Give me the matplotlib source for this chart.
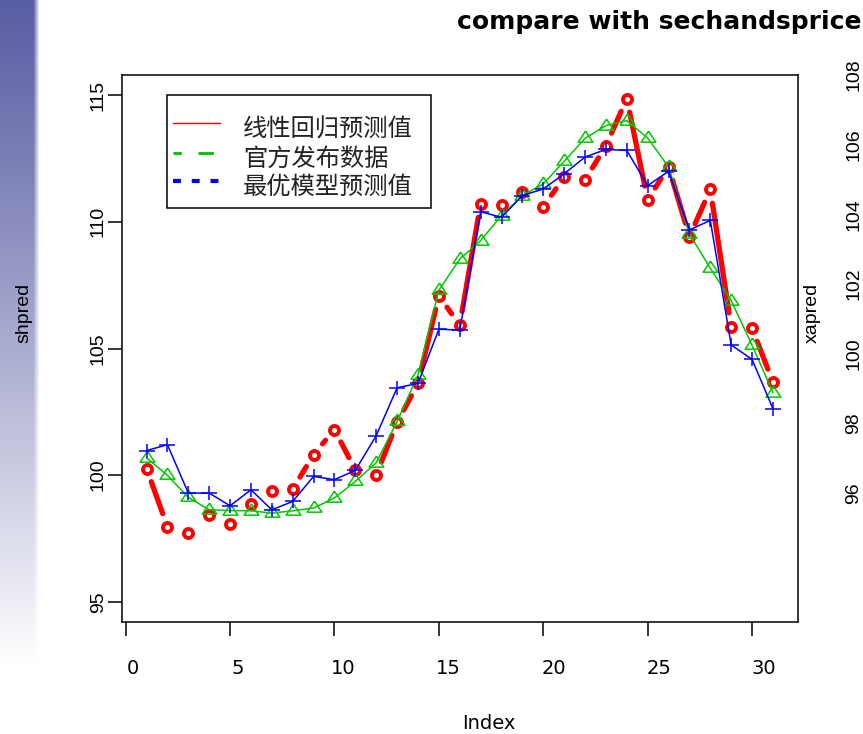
import numpy as np
import matplotlib
matplotlib.use("Agg")
import matplotlib.pyplot as plt
from matplotlib.lines import Line2D
from matplotlib.patches import Rectangle
from matplotlib.path import Path
from matplotlib.collections import LineCollection
from matplotlib.transforms import ScaledTranslation

# ---------------- data ----------------
index = list(range(1, 32))
linear_pred = [100.26, 97.96, 97.72, 98.41, 98.07, 98.85, 99.38, 99.45, 100.81, 101.80,
               100.20, 100.01, 102.08, 103.62, 107.08, 105.92, 110.72, 110.67, 111.17, 110.60,
               111.76, 111.66, 113.00, 114.87, 110.87, 112.17, 109.42, 111.28, 105.86, 105.80,
               103.67]
official = [100.68, 99.99, 99.12, 98.63, 98.60, 98.59, 98.50, 98.59, 98.70, 99.10,
            99.75, 100.49, 102.12, 103.96, 107.30, 108.53, 109.26, 110.25, 111.04, 111.50,
            112.39, 113.30, 113.80, 114.00, 113.31, 112.17, 109.52, 108.17, 106.89, 105.13,
            103.26]
best_pred = [100.97, 101.20, 99.29, 99.29, 98.79, 99.42, 98.63, 98.96, 99.95, 99.82,
             100.19, 101.56, 103.45, 103.62, 105.76, 105.73, 110.40, 110.18, 111.04, 111.30,
             111.90, 112.56, 112.86, 112.82, 111.43, 112.00, 109.68, 110.06, 105.14, 104.57,
             102.62]
x_ticks = [0, 5, 10, 15, 20, 25, 30]
y_ticks = [95, 100, 105, 110, 115]
right_ticks = [96, 98, 100, 102, 104, 106, 108]
legend_labels = ["线性回归预测值", "官方发布数据", "最优模型预测值"]
title_text = "compare with sechandsprice"
xlabel_text = "Index"
ylabel_text = "shpred"
ylabel2_text = "xapred"

# ---------------- figure ----------------
W, H = 863, 734
fig = plt.figure(figsize=(W / 100, H / 100), dpi=100)
fig.patch.set_facecolor("white")


def fx(px):
    return px / W


def fy(py):
    return 1 - py / H


# left decorative gradient strip
gh, gw = H, 42
rows = np.arange(gh)[:, None]
cols = np.arange(gw)[None, :]
t = np.clip(rows / 665.0, 0, 1) ** 1.1
top = np.array([90, 94, 163]) / 255.0
rgb = top[None, None, :] * (1 - t[..., None]) + t[..., None]
a = np.clip((39.0 - cols) / 6.0, 0, 1)[..., None]
rgb = rgb * a + (1 - a)
img = np.ones((gh, gw, 4))
img[..., :3] = np.broadcast_to(rgb, (gh, gw, 3))
fig.figimage(img, xo=0, yo=0, origin="upper", zorder=0)

L, R, T, B = 121.5, 798.0, 75.0, 622.0
ax = fig.add_axes([fx(L), fy(B), fx(R) - fx(L), fy(T) - fy(B)])
ax.set_facecolor("none")
ax.set_xlim(-0.2, 32.2)
ax.set_ylim(94.2, 115.8)
for s in ax.spines.values():
    s.set_linewidth(1.1)
    s.set_color("black")

ax.set_xticks(x_ticks)
ax.set_yticks(y_ticks)
ax.tick_params(axis="both", direction="out", length=10, width=1.1, color="black")
ax.tick_params(axis="x", pad=17)
ax.tick_params(axis="y", pad=6.8, labelrotation=90)
for v, lbl in zip(x_ticks, ax.get_xticklabels()):
    lbl.set_fontfamily("DejaVu Sans")
    lbl.set_fontsize(14)
    shift = (6.7 + 0.177 * v) / 100.0
    lbl.set_transform(lbl.get_transform() + ScaledTranslation(shift, 0, fig.dpi_scale_trans))
for lbl in ax.get_yticklabels():
    lbl.set_fontfamily("Liberation Sans")
    lbl.set_fontsize(14)
    lbl.set_ha("center")
    lbl.set_va("center")

# red: type "b" (points with gapped thick line segments)
trans = ax.transData
inv = trans.inverted()
pts = trans.transform(np.column_stack([index, linear_pred]))
segs = []
gap = 14.0
for p0, p1 in zip(pts[:-1], pts[1:]):
    d = p1 - p0
    ln = np.hypot(d[0], d[1])
    if ln <= 2 * gap + 2:
        continue
    u = d / ln
    segs.append(inv.transform(np.array([p0 + u * gap, p1 - u * gap])))
lc = LineCollection(segs, colors="#ff0000", linewidths=3.8, capstyle="round", zorder=2)
ax.add_collection(lc)
ax.plot(index, linear_pred, linestyle="none", marker="o", ms=6.5, mew=2.8,
        mfc="none", mec="#ff0000", zorder=2.1)

# green: triangles with thin line
tri = [(0, 1.5551), (1.55, -0.7776), (-1.55, -0.7776), (0, 1.5551)]
ax.plot(index, official, color="#00c800", lw=1.1, marker=tri, ms=10.6, mew=1.1,
        mfc="none", mec="#00c800", zorder=3)

# blue: plus markers with thin line
plus = Path([(-1.2, 0), (1.2, 0), (0, -1.0), (0, 1.0)],
            [Path.MOVETO, Path.LINETO, Path.MOVETO, Path.LINETO])
ax.plot(index, best_pred, color="#0000ff", lw=1.1, marker=plus, ms=12.2, mew=1.1,
        mfc="none", mec="#0000ff", zorder=4)

# secondary (right) axis labels
ax2 = ax.twinx()
ax2.set_ylim(92.3, 108.0)
ax2.set_yticks(right_ticks)
for s in ax2.spines.values():
    s.set_visible(False)
ax2.tick_params(axis="y", length=0, pad=40.3, labelrotation=90)
for lbl in ax2.get_yticklabels():
    lbl.set_fontfamily("Liberation Sans")
    lbl.set_fontsize(14)
    lbl.set_ha("center")
    lbl.set_va("center")

# legend (drawn as in the reference)
fig.add_artist(Rectangle((fx(167), fy(208)), fx(431) - fx(167), fy(95) - fy(208),
                         transform=fig.transFigure, facecolor="white",
                         edgecolor="black", lw=1.1, zorder=10))
lx0, lx1 = fx(173), fx(220)
fig.add_artist(Line2D([lx0, lx1], [fy(123)] * 2, transform=fig.transFigure,
                      color="#ff0000", lw=1.0, zorder=11))
fig.add_artist(Line2D([lx0, lx1], [fy(153)] * 2, transform=fig.transFigure,
                      color="#00c800", lw=2.2, linestyle=(2.3, (5, 5.5)),
                      dash_capstyle="butt", zorder=11))
fig.add_artist(Line2D([lx0, lx1], [fy(181)] * 2, transform=fig.transFigure,
                      color="#0000ff", lw=3.0, linestyle=(0, (1.9, 2.6)),
                      dash_capstyle="butt", zorder=11))
for lab, base in zip(legend_labels, [137, 166, 194]):
    fig.text(fx(243), fy(base), lab, fontfamily=["Noto Sans CJK SC", "DejaVu Sans"],
             fontsize=17.5, color="#222222", ha="left", va="baseline", zorder=12)

# titles and axis labels
fig.text(fx(457), fy(29.5), title_text, fontfamily="DejaVu Sans", fontweight="bold",
         fontsize=18, ha="left", va="baseline")
fig.text(fx(489), fy(729), xlabel_text, fontfamily="DejaVu Sans", fontsize=14,
         ha="center", va="baseline")
fig.text(fx(24), fy(313), ylabel_text, fontfamily="Liberation Sans", fontsize=14,
         rotation=90, ha="center", va="center")
fig.text(fx(812), fy(313), ylabel2_text, fontfamily="Liberation Sans", fontsize=14,
         rotation=90, ha="center", va="center")

fig.savefig("out.png", dpi=100)
